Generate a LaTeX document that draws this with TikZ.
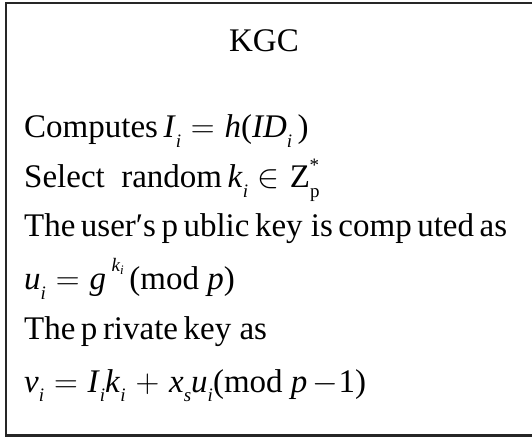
\RequirePackage{fix-cm}
\documentclass[tikz,border=0pt]{standalone}
\usepackage{fontspec}
\setmainfont{Liberation Serif}
% italic variable, italic subscript/superscript and spaced relation helpers
\newcommand\vr[1]{\textit{#1}}
\newcommand\sbi[1]{\raisebox{-0.3em}{\fontsize{19pt}{19pt}\selectfont\itshape #1}}
\newcommand\spk[1]{\raisebox{0.55em}{\fontsize{19pt}{19pt}\selectfont #1}}
\newcommand\rel[1]{\hspace{0.3em}$#1$\hspace{0.3em}}
\begin{document}
\begin{tikzpicture}[x=1pt,y=1pt,
  line/.style={anchor=base west,inner sep=0pt,font=\fontsize{33pt}{36pt}\selectfont}]
\useasboundingbox (0,0) rectangle (532,436);
\draw[line width=2.2pt,black!85] (533,0.6) -- (5.6,0.6) -- (5.6,433) -- (533,433);
\node[line,anchor=base] (title) at (264,384) {KGC};
\node[line] (l1) at (24,298) {Computes\,\vr{I}\sbi{i}\rel{=}\vr{h}(\vr{ID}\sbi{i}\,)};
\node[line] (l2) at (24,248) {Select\ \ random\,\vr{k}\sbi{i}\rel{\in}Z\raisebox{-0.3em}{\fontsize{19pt}{19pt}\selectfont p}\hspace{-0.3em}\raisebox{0.5em}{\fontsize{19pt}{19pt}\selectfont *}};
\node[line] (l3) at (24,199) {The\,user′s\,p\,ublic\,key is\,comp\,uted\,as};
\node[line] (l4) at (24,146) {\vr{u}\sbi{i}\rel{=}\vr{g}\,\spk{\vr{k}\raisebox{-0.15em}{\fontsize{13pt}{13pt}\selectfont\itshape i}}\,(mod \vr{p})};
\node[line] (l5) at (24,96) {The\,p\,rivate\,key as};
\node[line] (l6) at (24,44) {\vr{v}\sbi{i}\rel{=}\vr{I}\sbi{i}\vr{k}\sbi{i}\rel{+}\vr{x}\sbi{s}\vr{u}\sbi{i}(mod \vr{p}\,$-$1)};
\end{tikzpicture}
\end{document}
